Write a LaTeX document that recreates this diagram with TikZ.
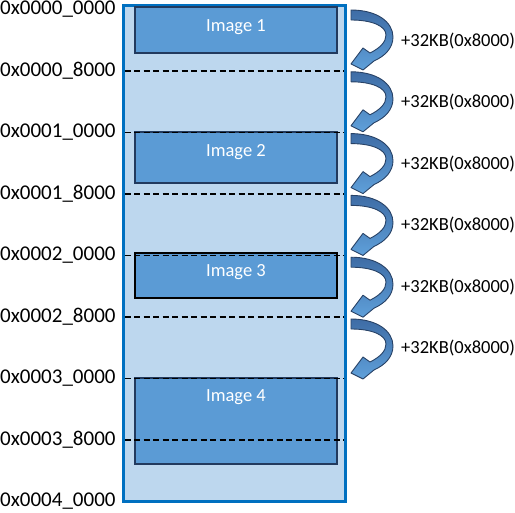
\documentclass[tikz,border=0pt]{standalone}
\usepackage{fontspec}
\setmainfont{Carlito}
\definecolor{memfill}{RGB}{189,215,238}
\definecolor{memborder}{RGB}{0,112,192}
\definecolor{imgfill}{RGB}{91,155,213}
\definecolor{imgborder}{RGB}{34,58,94}
\definecolor{arrtop}{RGB}{62,108,165}
\definecolor{arrbot}{RGB}{95,160,218}
\definecolor{arrline}{RGB}{40,66,102}
\tikzset{
  addr/.style={anchor=west, inner sep=0pt, font=\fontsize{21}{23}\selectfont},
  inc/.style={anchor=west, inner sep=0pt, font=\fontsize{18.5}{20}\selectfont},
  imgbox/.style={draw=imgborder, line width=2pt, fill=imgfill},
  imgtext/.style={text=white, inner sep=0pt, font=\fontsize{18.5}{20}\selectfont},
  divline/.style={dash pattern=on 6pt off 3.5pt, line width=1.7pt, black},
  curvarrow/.style={draw=arrline, line width=0.9pt, top color=arrtop, bottom color=arrbot, line join=round},
}
\newcommand{\curvedarrow}[1]{%
  \path[curvarrow, shift={(0,#1)}]
    (351,0) .. controls (377,0) and (393,12) .. (393,27)
    .. controls (393,38) and (385,46) .. (374,51)
    -- (363,60) -- (351,54) -- (363,38) -- (370,43)
    .. controls (380,38) and (386,32) .. (386,25)
    .. controls (386,16) and (372,10) .. (351,10) -- cycle;}
\begin{document}
\begin{tikzpicture}[x=1pt,y=-1pt]
\useasboundingbox (0,0) rectangle (515,513);
% memory block
\draw[memborder, line width=3pt, fill=memfill] (123,5.7) rectangle (345,501.5);
% images
\draw[imgbox] (135,7.5) rectangle (337,53);
\draw[imgbox] (135,132.5) rectangle (337,183);
\draw[draw=black, line width=2pt, fill=imgfill] (135,253.5) rectangle (337,298);
\draw[imgbox] (135,378) rectangle (337,464);
\node[imgtext] (t1) at (236,27.5) {Image 1};
\node[imgtext] (t2) at (236,152.5) {Image 2};
\node[imgtext] (t3) at (236,272.5) {Image 3};
\node[imgtext] (t4) at (236,397.5) {Image 4};
% dashed dividers
\foreach \k in {1,...,7}{
  \pgfmathsetmacro{\yy}{71+(\k-1)*61.5}
  \draw[divline] (124.5,\yy) -- (343.5,\yy);
}
% addresses
\foreach \k/\lab in {0/0x0000\_0000,1/0x0000\_8000,2/0x0001\_0000,3/0x0001\_8000,4/0x0002\_0000,5/0x0002\_8000,6/0x0003\_0000,7/0x0003\_8000,8/0x0004\_0000}{
  \pgfmathsetmacro{\yy}{9.5+\k*61.5}
  \node[addr] (a\k) at (0,\yy) {\lab};
}
% arrows
\foreach \j in {0,...,5}{
  \pgfmathsetmacro{\yy}{10+\j*61.8}
  \curvedarrow{\yy}
  \pgfmathsetmacro{\ly}{41+\j*61.5}
  \node[inc] (p\j) at (401,\ly) {+32KB(0x8000)};
}
\end{tikzpicture}
\end{document}
